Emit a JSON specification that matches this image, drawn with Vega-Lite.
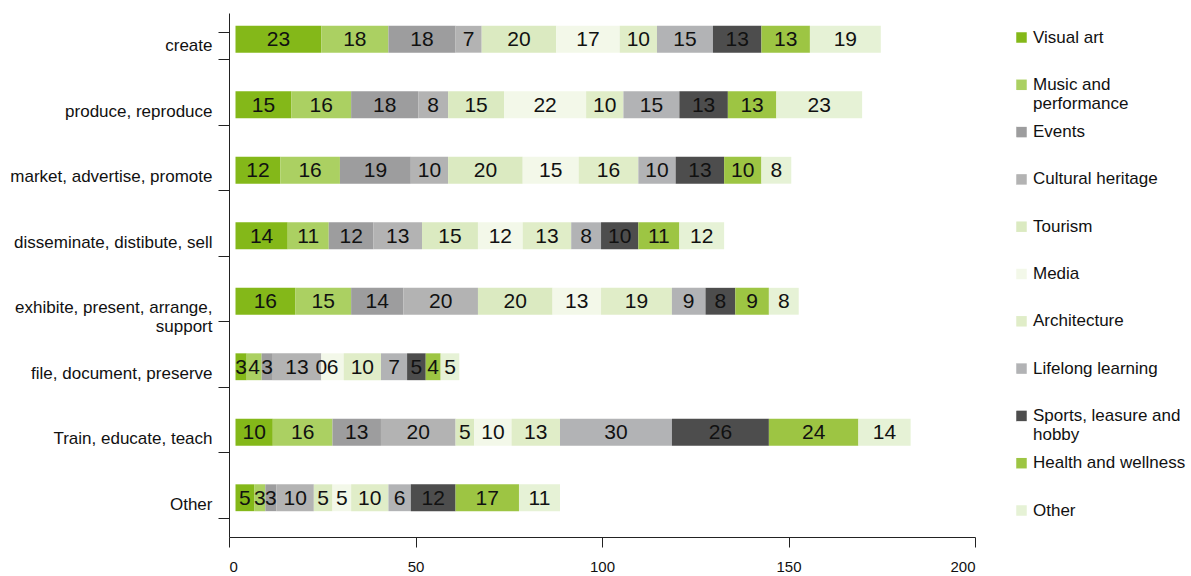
{
  "$schema": "https://vega.github.io/schema/vega-lite/v6.json",
  "autosize": {"type": "none"},
  "width": 746,
  "height": 524,
  "padding": {"left": 229, "top": 13, "right": 216, "bottom": 39},
  "background": "white",
  "config": {"view": {"stroke": null}, "font": "Liberation Sans"},
  "data": {"values": [
    {"activity": "create", "k": 0, "sector": "Visual art", "n": 23},
    {"activity": "create", "k": 1, "sector": "Music and performance", "n": 18},
    {"activity": "create", "k": 2, "sector": "Events", "n": 18},
    {"activity": "create", "k": 3, "sector": "Cultural heritage", "n": 7},
    {"activity": "create", "k": 4, "sector": "Tourism", "n": 20},
    {"activity": "create", "k": 5, "sector": "Media", "n": 17},
    {"activity": "create", "k": 6, "sector": "Architecture", "n": 10},
    {"activity": "create", "k": 7, "sector": "Lifelong learning", "n": 15},
    {"activity": "create", "k": 8, "sector": "Sports, leasure and hobby", "n": 13},
    {"activity": "create", "k": 9, "sector": "Health and wellness", "n": 13},
    {"activity": "create", "k": 10, "sector": "Other", "n": 19},
    {"activity": "produce, reproduce", "k": 0, "sector": "Visual art", "n": 15},
    {"activity": "produce, reproduce", "k": 1, "sector": "Music and performance", "n": 16},
    {"activity": "produce, reproduce", "k": 2, "sector": "Events", "n": 18},
    {"activity": "produce, reproduce", "k": 3, "sector": "Cultural heritage", "n": 8},
    {"activity": "produce, reproduce", "k": 4, "sector": "Tourism", "n": 15},
    {"activity": "produce, reproduce", "k": 5, "sector": "Media", "n": 22},
    {"activity": "produce, reproduce", "k": 6, "sector": "Architecture", "n": 10},
    {"activity": "produce, reproduce", "k": 7, "sector": "Lifelong learning", "n": 15},
    {"activity": "produce, reproduce", "k": 8, "sector": "Sports, leasure and hobby", "n": 13},
    {"activity": "produce, reproduce", "k": 9, "sector": "Health and wellness", "n": 13},
    {"activity": "produce, reproduce", "k": 10, "sector": "Other", "n": 23},
    {"activity": "market, advertise, promote", "k": 0, "sector": "Visual art", "n": 12},
    {"activity": "market, advertise, promote", "k": 1, "sector": "Music and performance", "n": 16},
    {"activity": "market, advertise, promote", "k": 2, "sector": "Events", "n": 19},
    {"activity": "market, advertise, promote", "k": 3, "sector": "Cultural heritage", "n": 10},
    {"activity": "market, advertise, promote", "k": 4, "sector": "Tourism", "n": 20},
    {"activity": "market, advertise, promote", "k": 5, "sector": "Media", "n": 15},
    {"activity": "market, advertise, promote", "k": 6, "sector": "Architecture", "n": 16},
    {"activity": "market, advertise, promote", "k": 7, "sector": "Lifelong learning", "n": 10},
    {"activity": "market, advertise, promote", "k": 8, "sector": "Sports, leasure and hobby", "n": 13},
    {"activity": "market, advertise, promote", "k": 9, "sector": "Health and wellness", "n": 10},
    {"activity": "market, advertise, promote", "k": 10, "sector": "Other", "n": 8},
    {"activity": "disseminate, distibute, sell", "k": 0, "sector": "Visual art", "n": 14},
    {"activity": "disseminate, distibute, sell", "k": 1, "sector": "Music and performance", "n": 11},
    {"activity": "disseminate, distibute, sell", "k": 2, "sector": "Events", "n": 12},
    {"activity": "disseminate, distibute, sell", "k": 3, "sector": "Cultural heritage", "n": 13},
    {"activity": "disseminate, distibute, sell", "k": 4, "sector": "Tourism", "n": 15},
    {"activity": "disseminate, distibute, sell", "k": 5, "sector": "Media", "n": 12},
    {"activity": "disseminate, distibute, sell", "k": 6, "sector": "Architecture", "n": 13},
    {"activity": "disseminate, distibute, sell", "k": 7, "sector": "Lifelong learning", "n": 8},
    {"activity": "disseminate, distibute, sell", "k": 8, "sector": "Sports, leasure and hobby", "n": 10},
    {"activity": "disseminate, distibute, sell", "k": 9, "sector": "Health and wellness", "n": 11},
    {"activity": "disseminate, distibute, sell", "k": 10, "sector": "Other", "n": 12},
    {"activity": "exhibite, present, arrange, support", "k": 0, "sector": "Visual art", "n": 16},
    {"activity": "exhibite, present, arrange, support", "k": 1, "sector": "Music and performance", "n": 15},
    {"activity": "exhibite, present, arrange, support", "k": 2, "sector": "Events", "n": 14},
    {"activity": "exhibite, present, arrange, support", "k": 3, "sector": "Cultural heritage", "n": 20},
    {"activity": "exhibite, present, arrange, support", "k": 4, "sector": "Tourism", "n": 20},
    {"activity": "exhibite, present, arrange, support", "k": 5, "sector": "Media", "n": 13},
    {"activity": "exhibite, present, arrange, support", "k": 6, "sector": "Architecture", "n": 19},
    {"activity": "exhibite, present, arrange, support", "k": 7, "sector": "Lifelong learning", "n": 9},
    {"activity": "exhibite, present, arrange, support", "k": 8, "sector": "Sports, leasure and hobby", "n": 8},
    {"activity": "exhibite, present, arrange, support", "k": 9, "sector": "Health and wellness", "n": 9},
    {"activity": "exhibite, present, arrange, support", "k": 10, "sector": "Other", "n": 8},
    {"activity": "file, document, preserve", "k": 0, "sector": "Visual art", "n": 3},
    {"activity": "file, document, preserve", "k": 1, "sector": "Music and performance", "n": 4},
    {"activity": "file, document, preserve", "k": 2, "sector": "Events", "n": 3},
    {"activity": "file, document, preserve", "k": 3, "sector": "Cultural heritage", "n": 13},
    {"activity": "file, document, preserve", "k": 4, "sector": "Tourism", "n": 0},
    {"activity": "file, document, preserve", "k": 5, "sector": "Media", "n": 6},
    {"activity": "file, document, preserve", "k": 6, "sector": "Architecture", "n": 10},
    {"activity": "file, document, preserve", "k": 7, "sector": "Lifelong learning", "n": 7},
    {"activity": "file, document, preserve", "k": 8, "sector": "Sports, leasure and hobby", "n": 5},
    {"activity": "file, document, preserve", "k": 9, "sector": "Health and wellness", "n": 4},
    {"activity": "file, document, preserve", "k": 10, "sector": "Other", "n": 5},
    {"activity": "Train, educate, teach", "k": 0, "sector": "Visual art", "n": 10},
    {"activity": "Train, educate, teach", "k": 1, "sector": "Music and performance", "n": 16},
    {"activity": "Train, educate, teach", "k": 2, "sector": "Events", "n": 13},
    {"activity": "Train, educate, teach", "k": 3, "sector": "Cultural heritage", "n": 20},
    {"activity": "Train, educate, teach", "k": 4, "sector": "Tourism", "n": 5},
    {"activity": "Train, educate, teach", "k": 5, "sector": "Media", "n": 10},
    {"activity": "Train, educate, teach", "k": 6, "sector": "Architecture", "n": 13},
    {"activity": "Train, educate, teach", "k": 7, "sector": "Lifelong learning", "n": 30},
    {"activity": "Train, educate, teach", "k": 8, "sector": "Sports, leasure and hobby", "n": 26},
    {"activity": "Train, educate, teach", "k": 9, "sector": "Health and wellness", "n": 24},
    {"activity": "Train, educate, teach", "k": 10, "sector": "Other", "n": 14},
    {"activity": "Other", "k": 0, "sector": "Visual art", "n": 5},
    {"activity": "Other", "k": 1, "sector": "Music and performance", "n": 3},
    {"activity": "Other", "k": 2, "sector": "Events", "n": 3},
    {"activity": "Other", "k": 3, "sector": "Cultural heritage", "n": 10},
    {"activity": "Other", "k": 4, "sector": "Tourism", "n": 5},
    {"activity": "Other", "k": 5, "sector": "Media", "n": 5},
    {"activity": "Other", "k": 6, "sector": "Architecture", "n": 10},
    {"activity": "Other", "k": 7, "sector": "Lifelong learning", "n": 6},
    {"activity": "Other", "k": 8, "sector": "Sports, leasure and hobby", "n": 12},
    {"activity": "Other", "k": 9, "sector": "Health and wellness", "n": 17},
    {"activity": "Other", "k": 10, "sector": "Other", "n": 11}
  ]},
  "encoding": {
    "y": {
      "field": "activity", "type": "nominal",
      "sort": ["create", "produce, reproduce", "market, advertise, promote", "disseminate, distibute, sell", "exhibite, present, arrange, support", "file, document, preserve", "Train, educate, teach", "Other"],
      "scale": {"paddingInner": 0.59, "paddingOuter": 0.295},
      "axis": {
        "title": null,
        "tickBand": "extent",
        "tickSize": 11,
        "tickColor": "#222",
        "domainColor": "#222",
        "labelPadding": 6,
        "labelFontSize": 17,
        "labelFont": "Liberation Sans",
        "labelColor": "#111",
        "labelLimit": 300,
        "labelExpr": "datum.label == 'exhibite, present, arrange, support' ? ['exhibite, present, arrange,', 'support'] : datum.label"
      }
    },
    "x": {
      "field": "n", "type": "quantitative", "stack": "zero",
      "scale": {"domain": [0, 200]},
      "axis": {
        "title": null,
        "values": [0, 50, 100, 150, 200],
        "grid": false,
        "tickSize": 10,
        "tickColor": "#222",
        "domainColor": "#222",
        "labelPadding": 12,
        "labelFontSize": 15,
        "labelFont": "Liberation Sans",
        "labelColor": "#111"
      }
    },
    "order": {"field": "k", "type": "quantitative"}
  },
  "layer": [
    {
      "mark": {"type": "bar", "xOffset": 6.5, "yOffset": -6.5},
      "encoding": {
        "color": {
          "field": "sector", "type": "nominal",
          "sort": ["Visual art", "Music and performance", "Events", "Cultural heritage", "Tourism", "Media", "Architecture", "Lifelong learning", "Sports, leasure and hobby", "Health and wellness", "Other"],
          "scale": {
            "domain": ["Visual art", "Music and performance", "Events", "Cultural heritage", "Tourism", "Media", "Architecture", "Lifelong learning", "Sports, leasure and hobby", "Health and wellness", "Other"],
            "range": ["#84b819", "#abd062", "#9d9d9e", "#b3b3b3", "#dbeac1", "#f3f8e9", "#e0edc8", "#b2b3b5", "#4d4d4d", "#9dc543", "#e6f2d6"]
          },
          "legend": {
            "title": null,
            "orient": "right",
            "offset": 22,
            "padding": 16,
            "gridAlign": "all",
            "symbolType": "square",
            "symbolSize": 110,
            "symbolStrokeWidth": 0,
            "labelFontSize": 17,
            "labelFont": "Liberation Sans",
            "labelColor": "#111",
            "labelOffset": 3,
            "labelLimit": 200,
            "rowPadding": 10.3,
            "labelExpr": "datum.label == 'Music and performance' ? ['Music and', 'performance'] : datum.label == 'Sports, leasure and hobby' ? ['Sports, leasure and', 'hobby'] : datum.label"
          }
        }
      }
    },
    {
      "mark": {"type": "text", "fontSize": 21, "font": "Liberation Sans", "color": "#111", "baseline": "middle", "align": "center", "xOffset": 6.5, "yOffset": -5.5},
      "encoding": {
        "x": {"field": "n", "type": "quantitative", "stack": "zero", "bandPosition": 0.5},
        "text": {"field": "n", "type": "quantitative"},
        "detail": {"field": "sector", "type": "nominal"}
      }
    }
  ]
}
